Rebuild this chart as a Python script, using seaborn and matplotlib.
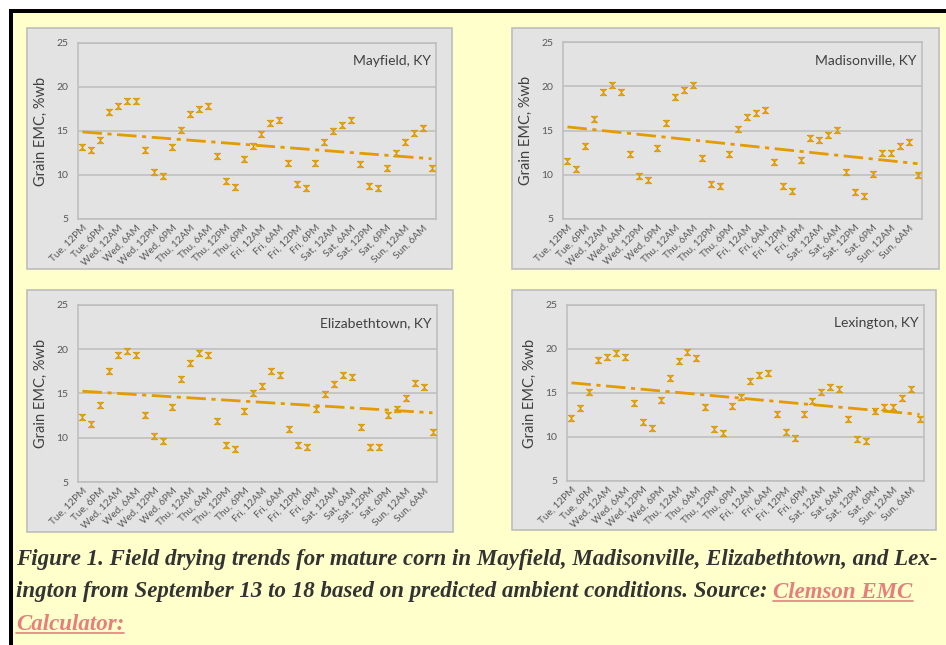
import numpy as np
import pandas as pd
import seaborn as sns
import matplotlib.pyplot as plt
from matplotlib.patches import Rectangle
from matplotlib.lines import Line2D

# time slots every 3 hours, Tue 12PM .. Sun 9AM (40 points)
slot_labels = ['Tue, 12PM', 'Tue, 6PM', 'Wed, 12AM', 'Wed, 6AM', 'Wed, 12PM', 'Wed, 6PM',
               'Thu, 12AM', 'Thu, 6AM', 'Thu, 12PM', 'Thu, 6PM', 'Fri, 12AM', 'Fri, 6AM',
               'Fri, 12PM', 'Fri, 6PM', 'Sat, 12AM', 'Sat, 6AM', 'Sat, 12PM', 'Sat, 6PM',
               'Sun, 12AM', 'Sun, 6AM']

sites = ['Mayfield, KY', 'Madisonville, KY', 'Elizabethtown, KY', 'Lexington, KY']

mayfield = [13.2, 12.8, 14.0, 17.2, 17.8, 18.4, 18.4, 12.8, 10.3, 9.9,
            13.2, 15.1, 16.9, 17.5, 17.8, 12.2, 9.3, 8.6, 11.8, 13.3,
            14.7, 15.9, 16.3, 11.4, 9.0, 8.5, 11.4, 13.7, 15.0, 15.7,
            16.2, 11.3, 8.8, 8.5, 10.8, 12.5, 13.7, 14.8, 15.3, 10.8]
madisonville = [11.6, 10.6, 13.2, 16.3, 19.4, 20.1, 19.4, 12.3, 9.9, 9.4,
                13.0, 15.9, 18.8, 19.6, 20.1, 11.9, 9.0, 8.7, 12.4, 15.2,
                16.5, 17.0, 17.3, 11.4, 8.7, 8.2, 11.7, 14.1, 13.9, 14.5,
                15.1, 10.3, 8.1, 7.6, 10.1, 12.5, 12.5, 13.2, 13.7, 10.0]
elizabethtown = [12.4, 11.5, 13.7, 17.5, 19.4, 19.8, 19.4, 12.6, 10.2, 9.6,
                 13.5, 16.6, 18.5, 19.6, 19.4, 11.9, 9.2, 8.7, 13.0, 15.0,
                 15.9, 17.5, 17.1, 11.0, 9.2, 9.0, 13.3, 14.9, 16.1, 17.1,
                 16.9, 11.2, 9.0, 8.9, 12.6, 13.3, 14.5, 16.2, 15.7, 10.6]
lexington = [12.2, 13.3, 15.1, 18.7, 19.1, 19.6, 19.1, 13.9, 11.7, 11.0,
             14.2, 16.7, 18.6, 19.7, 19.0, 13.4, 10.9, 10.4, 13.5, 14.5,
             16.4, 17.1, 17.3, 12.6, 10.6, 9.9, 12.6, 14.1, 15.1, 15.7,
             15.5, 12.0, 9.8, 9.6, 13.0, 13.4, 13.4, 14.4, 15.4, 12.0]

site_values = [mayfield, madisonville, elizabethtown, lexington]

rows = []
for site, vals in zip(sites, site_values):
    for i, v in enumerate(vals):
        rows.append({'site': site, 'slot': i, 'emc': v})
df = pd.DataFrame(rows)

sns.set_theme(style='white')
plt.rcParams['font.family'] = ['Lato', 'DejaVu Sans']

W, H = 946, 645
fig = plt.figure(figsize=(W / 100, H / 100), dpi=100)
fig.patch.set_facecolor('white')


def fx(px):
    return px / W


def fy(py):
    return 1 - py / H


# page background and black frame
fig.patches.append(Rectangle((fx(9), 0), 1 - fx(9), fy(11), transform=fig.transFigure,
                             facecolor='#FFFFCC', edgecolor='none', zorder=-10))
fig.patches.append(Rectangle((fx(9), fy(13)), 1 - fx(9), fy(9) - fy(13), transform=fig.transFigure,
                             facecolor='black', edgecolor='none', zorder=-9))
fig.patches.append(Rectangle((fx(9), 0), fx(4), fy(9), transform=fig.transFigure,
                             facecolor='black', edgecolor='none', zorder=-9))

# panel boxes (x0, y0, x1, y1) and plot areas in pixels
boxes = [(27, 28, 452, 269), (512, 28, 939, 269), (27, 290, 453, 532), (512, 290, 936, 530)]
areas = [(78, 43, 436, 219), (563, 42, 922, 219), (78, 305, 437, 482), (567, 305, 924, 481)]

hourglass = [(-1, 1), (1, 1), (-0.15, 0), (1, -1), (-1, -1), (0.15, 0), (-1, 1)]
gray_bg = '#E3E3E3'
mark_col = '#EBA600'
line_col = '#E59A00'

for site, box, area in zip(sites, boxes, areas):
    bx0, by0, bx1, by1 = box
    fig.patches.append(Rectangle((fx(bx0), fy(by1)), fx(bx1 - bx0), (by1 - by0) / H,
                                 transform=fig.transFigure, facecolor=gray_bg,
                                 edgecolor='#BDBDBD', linewidth=1.2, zorder=-5))
    ax0, ay0, ax1, ay1 = area
    ax = fig.add_axes([fx(ax0), fy(ay1), fx(ax1 - ax0), (ay1 - ay0) / H])
    ax.set_facecolor(gray_bg)
    sub = df[df['site'] == site]
    ax.grid(axis='y', color='#BDBDBD', linewidth=1.1)
    ax.set_axisbelow(True)
    sns.regplot(data=sub, x='slot', y='emc', scatter=False, ci=None, ax=ax, truncate=True,
                line_kws={'color': line_col, 'lw': 2.0, 'ls': (0, (7, 2, 1.5, 2))})
    sns.scatterplot(data=sub, x='slot', y='emc', ax=ax, marker=hourglass, s=22,
                    color=mark_col, edgecolor='#D99400', linewidth=0.5, zorder=3)
    ax.set_xlim(-0.5, 39.5)
    ax.set_ylim(5, 25)
    ax.set_yticks([5, 10, 15, 20, 25])
    ax.set_xticks(range(0, 40, 2))
    ax.set_xticklabels(slot_labels, rotation=45, ha='right', rotation_mode='anchor',
                       fontsize=7.2, color='#595959')
    ax.tick_params(axis='y', labelsize=7.5, labelcolor='#595959', length=0, pad=7)
    ax.tick_params(axis='x', length=0, pad=3)
    for sp in ax.spines.values():
        sp.set_color('#BDBDBD')
        sp.set_linewidth(1.1)
    ax.set_xlabel('')
    ax.set_ylabel('Grain EMC, %wb', fontsize=10.5, color='#404040', labelpad=6)
    ax.text(0.985, 0.93, site, transform=ax.transAxes, ha='right', va='top',
            fontsize=10, color='#404040')

# caption
cap_font = dict(family='Liberation Serif', weight='bold', style='italic', fontsize=16.5)
text_col = '#333333'
link_col = '#E57F7C'
line1 = 'Figure 1. Field drying trends for mature corn in Mayfield, Madisonville, Elizabethtown, and Lex-'
line2 = 'ington from September 13 to 18 based on predicted ambient conditions. Source: '
fig.text(fx(16), fy(559), line1, va='center', color=text_col, **cap_font)
t2 = fig.text(fx(16), fy(592), line2, va='center', color=text_col, **cap_font)
fig.canvas.draw()
r = fig.canvas.get_renderer()
bb = t2.get_window_extent(r)
lk1 = fig.text(bb.x1 / W, fy(592), 'Clemson EMC', va='center', color=link_col, **cap_font)
lk2 = fig.text(fx(16), fy(624), 'Calculator:', va='center', color=link_col, **cap_font)
fig.canvas.draw()
for lk in (lk1, lk2):
    b = lk.get_window_extent(r)
    yl = (b.y0 + 2) / H
    fig.lines.append(Line2D([b.x0 / W, b.x1 / W], [yl, yl], transform=fig.transFigure,
                            color=link_col, lw=1.2))

plt.savefig('out.png', dpi=100)
